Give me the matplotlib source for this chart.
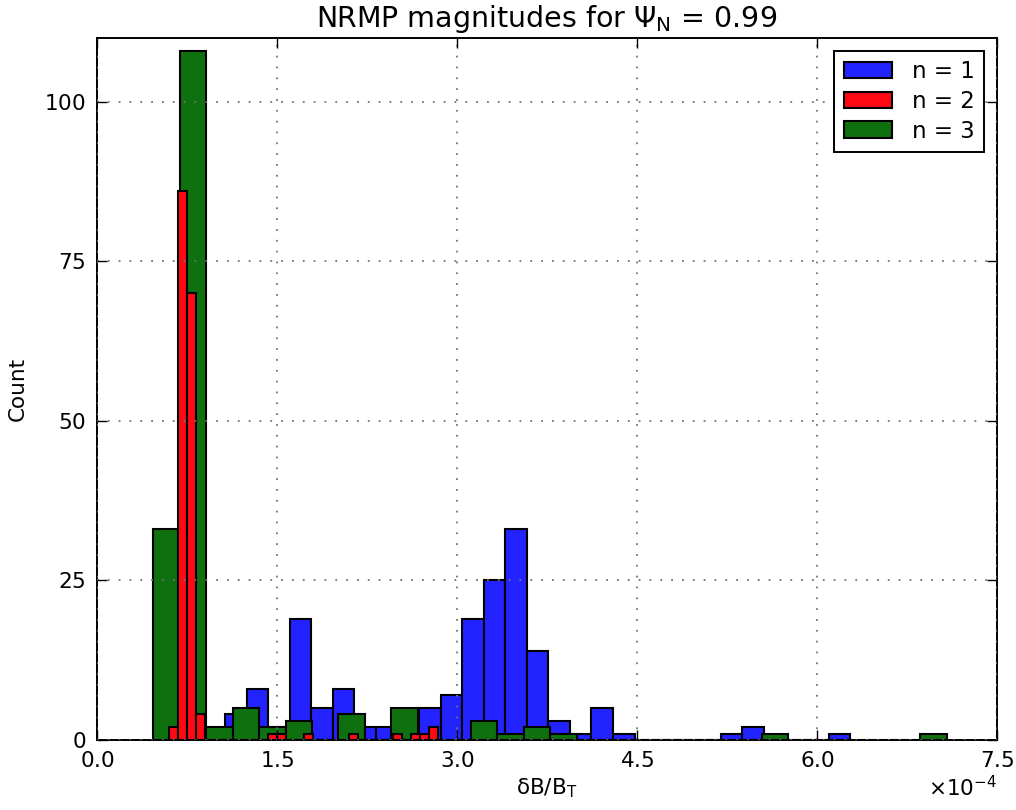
import numpy as np
import matplotlib
matplotlib.use("Agg")
import matplotlib.pyplot as plt

plt.rcParams["font.family"] = "DejaVu Sans"
plt.rcParams["axes.formatter.use_mathtext"] = True

# 30 bins per toroidal mode number, spanning each series' min..max of dB/B_T
n1_range = (0.888e-4, 6.276e-4)
n1_counts = [1, 4, 8, 2, 19, 5, 8, 2, 2, 3,
             5, 7, 19, 25, 33, 14, 3, 1, 5, 1,
             0, 0, 0, 0, 1, 2, 0, 0, 0, 1]

n2_range = (0.6025e-4, 2.844e-4)
n2_counts = [2, 86, 70, 4, 0, 0, 0, 0, 0, 0,
             0, 1, 1, 0, 0, 1, 0, 0, 0, 0,
             1, 0, 0, 0, 0, 1, 0, 1, 1, 2]

n3_range = (0.469e-4, 7.082e-4)
n3_counts = [33, 108, 2, 5, 2, 3, 0, 4, 0, 5,
             0, 0, 3, 1, 2, 1, 0, 0, 0, 0,
             0, 0, 0, 1, 0, 0, 0, 0, 0, 1]

x_ticks = [0.0, 1.5e-4, 3.0e-4, 4.5e-4, 6.0e-4, 7.5e-4]
y_ticks = [0, 25, 50, 75, 100]

fig = plt.figure(figsize=(10.16, 8.10), dpi=100)
ax = fig.add_axes([97 / 1016, 1 - 740 / 810, 900 / 1016, 702 / 810])


def draw_hist(rng, counts, color, label):
    edges = np.linspace(rng[0], rng[1], len(counts) + 1)
    centers = 0.5 * (edges[:-1] + edges[1:])
    _, _, patches = ax.hist(centers, bins=edges, weights=counts, color=color,
                            edgecolor="black", linewidth=1.5, label=label)
    return patches[0]


h1 = draw_hist(n1_range, n1_counts, "#2323ff", "n = 1")
h3 = draw_hist(n3_range, n3_counts, "#0f700f", "n = 3")
h2 = draw_hist(n2_range, n2_counts, "#ff0a14", "n = 2")

ax.set_xlim(0, 7.5e-4)
ax.set_ylim(0, 110)
ax.set_xticks(x_ticks)
ax.set_yticks(y_ticks)
ax.ticklabel_format(axis="x", style="sci", scilimits=(0, 0))
ax.xaxis.get_offset_text().set_fontsize(15.5)

ax.set_axisbelow(False)
ax.grid(True, color="0.45", linestyle=(0, (1, 5)), linewidth=1.3)
ax.tick_params(direction="in", length=7, width=1, top=True, right=True,
               labelsize=15.5, pad=8)
for s in ax.spines.values():
    s.set_linewidth(1.4)

ax.set_title("NRMP magnitudes for \u03a8$_\\mathrm{N}$ = 0.99", fontsize=20.5, pad=8)
ax.set_xlabel("\u03b4B/B$_\\mathrm{T}$", fontsize=15.5)
ax.set_ylabel("Count", fontsize=15.5, labelpad=12)

leg = ax.legend([h1, h2, h3], ["n = 1", "n = 2", "n = 3"], loc="upper right",
                fontsize=16.5, fancybox=False, framealpha=1, edgecolor="black",
                handlelength=2.1, labelspacing=0.3, borderaxespad=0.55,
                handletextpad=0.9)
leg.get_frame().set_linewidth(1.4)

fig.savefig("out.png", dpi=100, facecolor="white")
